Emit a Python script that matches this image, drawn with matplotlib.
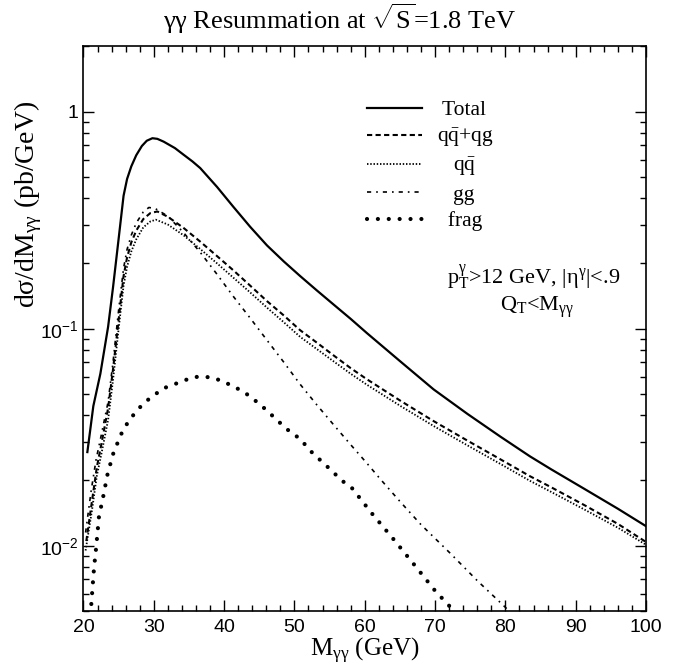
import matplotlib
matplotlib.use("Agg")
import matplotlib.pyplot as plt
import numpy as np
from matplotlib.ticker import FixedLocator, FuncFormatter, LogLocator, NullFormatter

plt.rcParams['font.family'] = ['Liberation Serif', 'DejaVu Serif']
plt.rcParams['mathtext.fontset'] = 'custom'
plt.rcParams['mathtext.rm'] = 'Liberation Serif'
plt.rcParams['mathtext.it'] = 'Liberation Serif:italic'

# curves (M in GeV, dsigma/dM in pb/GeV)
m_total = [20.55, 21.4, 22.4, 23.5, 24.2, 25.0, 25.7, 26.2, 26.8, 27.5, 28.3, 29.0, 29.8, 30.5,
           31.4, 33.0, 34.2, 35.5, 36.6, 39.0, 41.3, 43.7, 46.1, 48.5, 50.8, 53.2, 55.6, 58.0,
           60.3, 65.1, 69.8, 74.6, 79.3, 83.5, 86.5, 91.2, 96.0, 100.0]
total = [0.027, 0.044, 0.062, 0.102, 0.155, 0.26, 0.41, 0.49, 0.56, 0.63, 0.695, 0.735, 0.755,
         0.750, 0.728, 0.68, 0.635, 0.59, 0.55, 0.45, 0.365, 0.295, 0.242, 0.204, 0.175, 0.150,
         0.129, 0.111, 0.0955, 0.0705, 0.0525, 0.0405, 0.0318, 0.0258, 0.0225, 0.0183, 0.0148,
         0.0123]

m_qqqg = [20.4, 21.2, 21.9, 22.6, 23.5, 24.2, 25.0, 25.7, 26.2, 26.8, 27.5, 28.5, 29.5, 30.5,
          32.0, 34.2, 36.6, 39.0, 41.3, 43.7, 46.1, 48.5, 50.8, 53.2, 55.6, 58.0, 60.3, 65.1,
          69.8, 74.6, 79.3, 83.5, 86.5, 91.2, 96.0, 100.0]
qqqg = [0.0105, 0.016, 0.023, 0.030, 0.043, 0.065, 0.11, 0.175, 0.213, 0.250, 0.283, 0.320, 0.341,
        0.347, 0.328, 0.292, 0.252, 0.216, 0.186, 0.158, 0.134, 0.115, 0.0985, 0.0862, 0.0752,
        0.0658, 0.0585, 0.0465, 0.0375, 0.0305, 0.0250, 0.0209, 0.0186, 0.0154, 0.0126, 0.0104]

m_qq = [20.3, 21.2, 21.9, 22.6, 23.5, 24.2, 25.0, 25.7, 26.2, 26.8, 27.5, 28.5, 29.5, 30.3,
        32.0, 34.2, 36.6, 39.0, 41.3, 43.7, 46.1, 48.5, 50.8, 53.2, 55.6, 58.0, 60.3, 65.1,
        69.8, 74.6, 79.3, 83.5, 86.5, 91.2, 96.0, 100.0]
qq = [0.0095, 0.0145, 0.021, 0.027, 0.038, 0.058, 0.10, 0.158, 0.193, 0.227, 0.258, 0.293, 0.312,
      0.318, 0.302, 0.270, 0.233, 0.200, 0.172, 0.147, 0.125, 0.107, 0.0918, 0.0805, 0.0706,
      0.0620, 0.0552, 0.0440, 0.0356, 0.0290, 0.0238, 0.0199, 0.0177, 0.0147, 0.0121, 0.0101]

m_gg = [20.3, 21.1, 21.8, 22.5, 23.5, 24.2, 25.0, 25.7, 26.2, 26.8, 27.5, 28.5, 29.3, 30.2,
        32.0, 34.2, 36.6, 39.0, 41.3, 43.7, 46.1, 48.5, 50.8, 53.2, 55.6, 58.0, 60.3, 62.2,
        65.0, 68.0, 72.2, 76.0, 80.0, 81.5]
gg = [0.0115, 0.018, 0.025, 0.032, 0.046, 0.070, 0.122, 0.19, 0.232, 0.27, 0.307, 0.345, 0.362,
      0.358, 0.330, 0.278, 0.225, 0.178, 0.141, 0.112, 0.0885, 0.070, 0.0555, 0.0445, 0.0360,
      0.0292, 0.0240, 0.0203, 0.0160, 0.0125, 0.0092, 0.0069, 0.0052, 0.0046]

m_frag = [21.0, 21.26, 21.5, 21.8, 22.2, 22.8, 23.4, 24.2, 25.3, 26.0, 26.9, 27.8, 28.9, 31.3,
          34.2, 35.6, 37.0, 38.4, 39.9, 42.5, 43.8, 45.9, 47.8, 49.5, 50.7, 52.5, 54.7, 56.8,
          58.2, 61.0, 64.0, 67.0, 70.0, 72.7, 73.5]
frag = [0.0048, 0.00625, 0.0079, 0.0098, 0.0136, 0.0168, 0.0212, 0.0264, 0.0324, 0.0357, 0.0393,
        0.0427, 0.0463, 0.053, 0.0575, 0.0598, 0.0602, 0.0594, 0.0571, 0.0518, 0.0485, 0.0425,
        0.0372, 0.0332, 0.0313, 0.0269, 0.0231, 0.0199, 0.0184, 0.0141, 0.0108, 0.0082, 0.0062,
        0.0050, 0.0046]

fig = plt.figure(figsize=(6.86, 6.65), dpi=100)
ax = fig.add_axes([0.1217, 0.0812, 0.820, 0.849])

ax.plot(m_total, total, color='black', lw=1.6, label=' Total')
ax.plot(m_qqqg, qqqg, color='black', lw=1.5, ls=(0, (2.5, 1.6)),
        label=r'q$\mathregular{\bar{q}}$+qg')
ax.plot(m_qq, qq, color='black', lw=1.3, ls=(0, (0.8, 1.0)), label=r'   q$\mathregular{\bar{q}}$')
ax.plot(m_gg, gg, color='black', lw=1.2, ls=(0, (2.5, 3.0, 1.0, 3.0)), label='   gg')
ax.plot(m_frag, frag, color='black', lw=3.0, ls=(0, (0.01, 2.6)),
        dash_capstyle='round', label='  frag')

ax.set_yscale('log')
ax.set_xlim(20, 100)
ax.set_ylim(5e-3, 2)

ax.xaxis.set_major_locator(FixedLocator(np.arange(20, 101, 10)))
ax.xaxis.set_minor_locator(FixedLocator(np.arange(20, 101, 2)))
ax.yaxis.set_major_locator(LogLocator(base=10, numticks=10))
ax.yaxis.set_minor_locator(LogLocator(base=10, subs=np.arange(2, 10), numticks=20))
ax.yaxis.set_minor_formatter(NullFormatter())


def ylab(v, pos):
    e = int(round(np.log10(v)))
    if e == 0:
        return '1'
    return r'$\mathregular{10^{%d}}$' % e


ax.yaxis.set_major_formatter(FuncFormatter(ylab))
ax.tick_params(which='both', direction='in', top=True, right=True, width=1.0)
ax.tick_params(which='major', length=8)
ax.tick_params(which='minor', length=4)
for lab in ax.get_xticklabels() + ax.get_yticklabels():
    lab.set_fontfamily('Liberation Sans')
    lab.set_fontsize(14)
ax.tick_params(axis='x', pad=6)
for s in ax.spines.values():
    s.set_linewidth(1.2)

fig.text(0.495, 0.972, r'γγ Resummation at $\sqrt{\mathregular{S}}$=1.8 TeV', fontsize=19,
         ha='center', va='center')
ax.set_xlabel(r'M$_{\mathregular{γγ}}$ (GeV)', fontsize=18, labelpad=0)
ax.set_ylabel(r'dσ/dM$_{\mathregular{γγ}}$ (pb/GeV)', fontsize=20)
ax.yaxis.set_label_coords(-0.07, 0.72)

ax.legend(loc='upper left', bbox_to_anchor=(0.504, 0.905), frameon=False, fontsize=15.5,
          handlelength=2.55, handletextpad=0.7, labelspacing=0.3, borderpad=0,
          borderaxespad=0)

ax.text(0.80, 0.5916, r'p$_{\mathregular{T}}^{\mathregular{γ}}$>12 GeV, |η$^{\mathregular{γ}}$|<.9',
        transform=ax.transAxes, ha='center', va='center', fontsize=16)
ax.text(0.806, 0.538, r'Q$_{\mathregular{T}}$<M$_{\mathregular{γγ}}$',
        transform=ax.transAxes, ha='center', va='center', fontsize=16)

fig.savefig('out.png', dpi=100)
